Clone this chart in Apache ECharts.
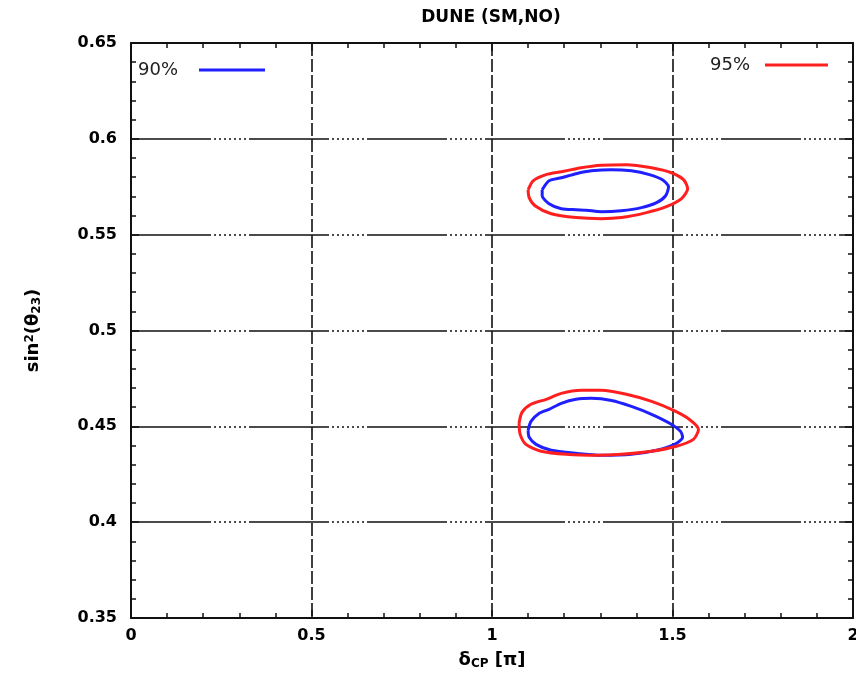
<!DOCTYPE html>
<html>
<head>
<meta charset="utf-8">
<title>DUNE (SM,NO)</title>
<script src="https://cdn.jsdelivr.net/npm/echarts@6/dist/echarts.min.js"></script>
<style>
  html, body { margin: 0; padding: 0; background: #fff; }
  #chart { width: 856px; height: 675px; }
</style>
</head>
<body>
<div id="chart"></div>
<script>
// Allowed-region contours in the (delta_CP [pi], sin^2 theta23) plane
const cl90Upper = [
  [1.139, 0.5734], [1.158, 0.5781], [1.192, 0.5797], [1.233, 0.5818], [1.275, 0.5833],
  [1.331, 0.5839], [1.386, 0.5833], [1.436, 0.5813], [1.472, 0.5786], [1.489, 0.5750],
  [1.481, 0.5703], [1.456, 0.5667], [1.414, 0.5641], [1.358, 0.5625], [1.303, 0.5620],
  [1.261, 0.5628], [1.233, 0.5630], [1.192, 0.5635], [1.158, 0.5661], [1.139, 0.5703],
  [1.139, 0.5734]
];
const cl90Lower = [
  [1.100, 0.4479], [1.108, 0.4526], [1.131, 0.4568], [1.158, 0.4589], [1.192, 0.4620],
  [1.233, 0.4641], [1.275, 0.4646], [1.331, 0.4635], [1.386, 0.4604], [1.442, 0.4563],
  [1.492, 0.4516], [1.522, 0.4474], [1.528, 0.4443], [1.506, 0.4406], [1.456, 0.4375],
  [1.386, 0.4354], [1.303, 0.4349], [1.233, 0.4359], [1.164, 0.4375], [1.122, 0.4406],
  [1.103, 0.4443], [1.100, 0.4479]
];
const cl95Upper = [
  [1.100, 0.5734], [1.114, 0.5781], [1.150, 0.5813], [1.192, 0.5828], [1.247, 0.5849],
  [1.303, 0.5862], [1.372, 0.5865], [1.442, 0.5849], [1.497, 0.5823], [1.531, 0.5786],
  [1.542, 0.5740], [1.525, 0.5688], [1.483, 0.5646], [1.428, 0.5615], [1.358, 0.5589],
  [1.303, 0.5583], [1.233, 0.5589], [1.164, 0.5609], [1.119, 0.5651], [1.103, 0.5693],
  [1.100, 0.5734]
];
const cl95Lower = [
  [1.075, 0.4516], [1.083, 0.4573], [1.108, 0.4615], [1.150, 0.4641], [1.192, 0.4672],
  [1.247, 0.4688], [1.303, 0.4688], [1.372, 0.4667], [1.442, 0.4630], [1.503, 0.4583],
  [1.547, 0.4536], [1.572, 0.4484], [1.558, 0.4432], [1.511, 0.4396], [1.442, 0.4370],
  [1.358, 0.4354], [1.289, 0.4349], [1.206, 0.4354], [1.136, 0.4370], [1.094, 0.4406],
  [1.078, 0.4458], [1.075, 0.4516]
];

const xRange = [0, 2];
const xStep = 0.5;
const yRange = [0.35, 0.65];
const yStep = 0.05;

const FONT = '"DejaVu Sans", Verdana, sans-serif';
const BLUE = '#1f1fff';
const RED = '#ff1f1f';

const chart = echarts.init(document.getElementById('chart'), null, { renderer: 'canvas' });

const frameLine = { show: true, onZero: false, lineStyle: { color: '#111', width: 2 } };
const tickIn = { show: true, inside: true, length: 8, lineStyle: { color: '#111', width: 1.5 } };
const minorIn = { show: true, splitNumber: 5, length: 5, lineStyle: { color: '#111', width: 1.5 } };
const labelStyle = { color: '#000', fontFamily: FONT, fontWeight: 'bold', fontSize: 16 };

function contour(name, color, data) {
  return {
    type: 'line',
    name: name,
    data: data,
    xAxisIndex: 0,
    yAxisIndex: 0,
    showSymbol: false,
    symbol: 'none',
    smooth: 0.25,
    z: 5,
    lineStyle: { color: color, width: 3 },
    itemStyle: { color: color },
    emphasis: { disabled: true },
    animation: false
  };
}

const option = {
  animation: false,
  backgroundColor: '#fff',
  title: {
    text: 'DUNE (SM,NO)',
    left: 486,
    textAlign: 'center',
    top: 4,
    textStyle: { fontFamily: FONT, fontWeight: 'bold', fontSize: 17, color: '#000' }
  },
  legend: [
    {
      data: ['90%'],
      left: 133,
      top: 56,
      align: 'right',
      icon: 'rect',
      itemWidth: 66,
      itemHeight: 3,
      selectedMode: false,
      textStyle: { fontFamily: FONT, fontSize: 18, color: '#222', padding: [0, 16, 0, 0] }
    },
    {
      data: ['95%'],
      right: 23,
      top: 51,
      align: 'right',
      icon: 'rect',
      itemWidth: 63,
      itemHeight: 3,
      selectedMode: false,
      textStyle: { fontFamily: FONT, fontSize: 18, color: '#222', padding: [0, 10, 0, 0] }
    }
  ],
  grid: { left: 131, right: 3, top: 43, bottom: 57, containLabel: false, outerBoundsMode: 'none' },
  xAxis: [
    {
      type: 'value',
      position: 'bottom',
      min: xRange[0], max: xRange[1], interval: xStep,
      axisLine: frameLine,
      axisTick: tickIn,
      minorTick: minorIn,
      axisLabel: Object.assign({ margin: 10, formatter: v => String(v) }, labelStyle),
      splitLine: { show: true, lineStyle: { color: '#111', width: 1.6, type: [13, 3] } },
      name: '{d|δ}{s|CP}{d| [π]}',
      nameLocation: 'middle',
      nameGap: 33,
      nameTextStyle: {
        rich: {
          d: { fontFamily: FONT, fontWeight: 'bold', fontSize: 18, color: '#000' },
          s: { fontFamily: FONT, fontWeight: 'bold', fontSize: 12, color: '#000', verticalAlign: 'bottom', padding: [7, 0, 0, 0] }
        }
      }
    },
    {
      type: 'value',
      position: 'top',
      min: xRange[0], max: xRange[1], interval: xStep,
      axisLine: frameLine,
      axisTick: tickIn,
      minorTick: minorIn,
      axisLabel: { show: false },
      splitLine: { show: false }
    }
  ],
  yAxis: [
    {
      type: 'value',
      position: 'left',
      min: yRange[0], max: yRange[1], interval: yStep,
      axisLine: frameLine,
      axisTick: tickIn,
      minorTick: minorIn,
      axisLabel: Object.assign({ margin: 14, formatter: v => String(+v.toFixed(2)) }, labelStyle),
      splitLine: {
        show: true,
        lineStyle: { color: '#111', width: 1.6, type: [80, 3, 2, 3, 2, 3, 2, 3, 2, 3, 2, 3, 2, 3, 2, 3] }
      },
      name: '{n|sin}{p|2}{n|(θ}{b|23}{n|)}',
      nameLocation: 'middle',
      nameGap: 88,
      nameRotate: 90,
      nameTextStyle: {
        rich: {
          n: { fontFamily: FONT, fontWeight: 'bold', fontSize: 18, color: '#000' },
          p: { fontFamily: FONT, fontWeight: 'bold', fontSize: 12, color: '#000', verticalAlign: 'top', padding: [0, 0, 7, 0] },
          b: { fontFamily: FONT, fontWeight: 'bold', fontSize: 12, color: '#000', verticalAlign: 'bottom', padding: [7, 0, 0, 0] }
        }
      }
    },
    {
      type: 'value',
      position: 'right',
      min: yRange[0], max: yRange[1], interval: yStep,
      axisLine: frameLine,
      axisTick: tickIn,
      minorTick: minorIn,
      axisLabel: { show: false },
      splitLine: { show: false }
    }
  ],
  series: [
    contour('90%', BLUE, cl90Upper),
    contour('90%', BLUE, cl90Lower),
    contour('95%', RED, cl95Upper),
    contour('95%', RED, cl95Lower)
  ]
};

chart.setOption(option);
</script>
</body>
</html>
